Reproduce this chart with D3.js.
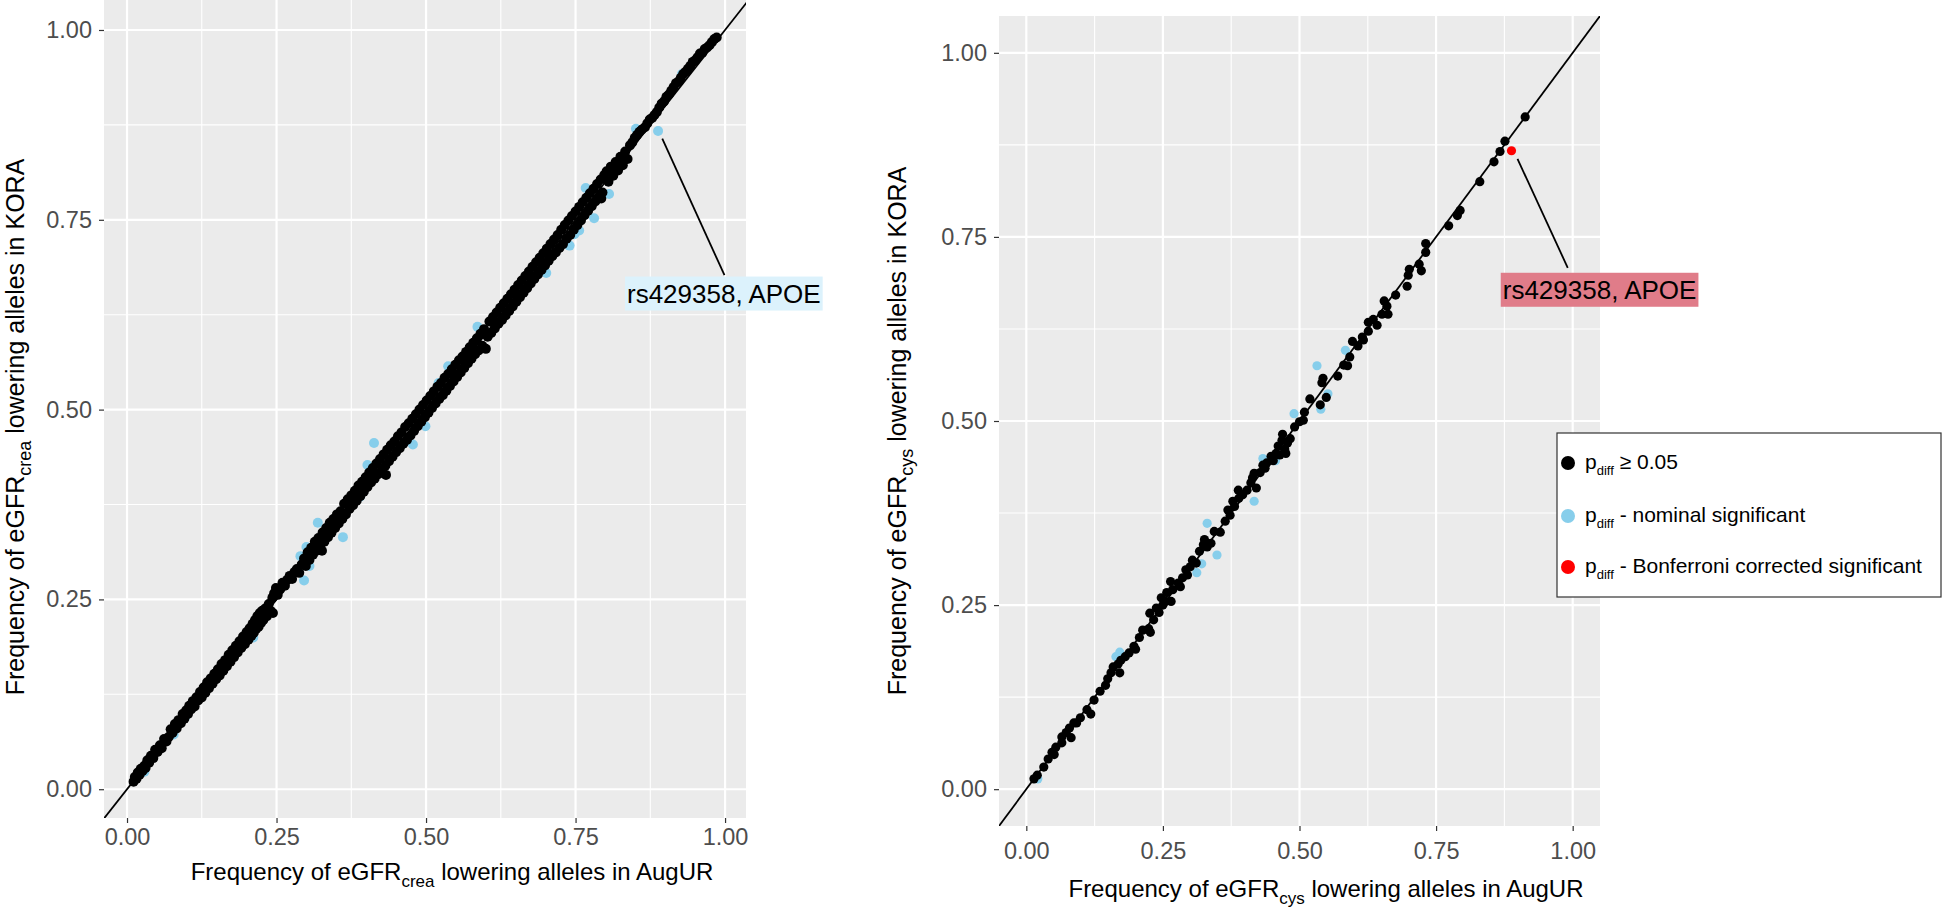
<!DOCTYPE html>
<html><head><meta charset="utf-8">
<script src="https://cdn.jsdelivr.net/npm/d3@7"></script>
<style>
body{margin:0;background:#fff}
svg{display:block}
text{font-family:"Liberation Sans",Arial,sans-serif}
</style>
</head><body>
<svg id="chart" width="1944" height="912"></svg>
<script>
// ---------- data ----------
const tickValues = [0, 0.25, 0.5, 0.75, 1];
const tickLabels = ["0.00", "0.25", "0.50", "0.75", "1.00"];
const minorTicks = [0.125, 0.375, 0.625, 0.875];

const legendLabels = [" \u2265 0.05", " - nominal significant", " - Bonferroni corrected significant"];
const groupColors = ["#000000", "#87CEEB", "#FF0000"];
const annotationText = "rs429358, APOE";

// eGFRcrea: [AugUR frequency, KORA frequency]
const creaBlack = [
[0.011,0.010],[0.013,0.016],[0.016,0.014],[0.018,0.022],[0.021,0.019],[0.023,0.027],[0.026,0.024],[0.029,0.031],[0.031,0.028],[0.034,0.038],[0.037,0.035],[0.040,0.044],[0.044,0.041],[0.047,0.052],[0.051,0.049],[0.055,0.058],[0.058,0.054],[0.062,0.066],[0.066,0.063],[0.070,0.069],[0.073,0.079],[0.076,0.074],[0.080,0.086],[0.083,0.080],[0.086,0.091],[0.090,0.087],[0.093,0.099],[0.096,0.093],[0.099,0.104],
[0.102,0.099],[0.104,0.110],[0.107,0.105],[0.110,0.116],[0.113,0.109],[0.116,0.121],[0.119,0.117],[0.122,0.128],[0.125,0.121],[0.128,0.134],[0.131,0.127],[0.134,0.141],[0.137,0.133],[0.140,0.146],[0.143,0.139],[0.146,0.152],[0.149,0.145],[0.152,0.158],[0.155,0.150],[0.158,0.165],[0.161,0.156],[0.164,0.170],[0.167,0.162],[0.170,0.177],[0.173,0.168],[0.176,0.183],[0.179,0.174],[0.182,0.189],[0.185,0.180],[0.188,0.195],[0.191,0.186],[0.194,0.201],[0.197,0.191],[0.200,0.207],
[0.203,0.197],[0.205,0.212],[0.208,0.202],[0.210,0.218],[0.212,0.206],[0.214,0.223],[0.216,0.211],[0.218,0.228],[0.220,0.214],[0.222,0.232],[0.224,0.219],[0.226,0.235],[0.228,0.223],[0.231,0.238],[0.234,0.228],[0.237,0.244],[0.240,0.235],[0.244,0.232],[0.243,0.252],[0.246,0.258],[0.249,0.265],[0.252,0.256],[0.256,0.263],[0.260,0.272],[0.264,0.268],[0.268,0.276],[0.272,0.281],[0.276,0.277],[0.280,0.286],[0.284,0.290],[0.288,0.285],[0.292,0.296],[0.296,0.304],
[0.299,0.294],[0.302,0.312],[0.305,0.302],[0.308,0.318],[0.311,0.309],[0.314,0.326],[0.317,0.314],[0.320,0.331],[0.323,0.319],[0.326,0.314],[0.327,0.338],[0.330,0.326],[0.333,0.344],[0.336,0.332],[0.339,0.351],[0.342,0.338],[0.345,0.356],[0.348,0.344],[0.351,0.362],[0.354,0.350],[0.357,0.366],[0.360,0.356],[0.363,0.376],[0.366,0.362],[0.369,0.382],[0.372,0.369],[0.375,0.387],[0.378,0.374],[0.381,0.393],[0.384,0.380],[0.387,0.400],[0.390,0.386],[0.393,0.405],[0.396,0.392],[0.399,0.411],
[0.402,0.398],[0.405,0.417],[0.408,0.404],[0.411,0.423],[0.414,0.409],[0.417,0.429],[0.420,0.415],[0.423,0.435],[0.426,0.420],[0.429,0.441],[0.432,0.426],[0.433,0.414],[0.435,0.447],[0.438,0.432],[0.441,0.453],[0.444,0.438],[0.447,0.458],[0.450,0.444],[0.453,0.465],[0.456,0.449],[0.459,0.470],[0.462,0.455],[0.465,0.477],[0.468,0.460],[0.471,0.482],[0.474,0.466],[0.477,0.488],[0.480,0.472],[0.483,0.494],[0.486,0.478],[0.489,0.500],[0.492,0.484],[0.495,0.506],[0.498,0.490],
[0.501,0.512],[0.504,0.496],[0.507,0.518],[0.510,0.502],[0.513,0.524],[0.516,0.508],[0.519,0.530],[0.522,0.514],[0.525,0.535],[0.528,0.519],[0.531,0.542],[0.534,0.525],[0.537,0.547],[0.540,0.531],[0.543,0.553],[0.546,0.537],[0.549,0.559],[0.552,0.543],[0.555,0.565],[0.558,0.549],[0.561,0.570],[0.564,0.555],[0.567,0.576],[0.570,0.561],[0.573,0.582],[0.576,0.567],[0.579,0.588],[0.582,0.573],[0.585,0.594],[0.588,0.578],[0.591,0.600],[0.594,0.584],[0.597,0.606],[0.600,0.580],
[0.603,0.596],[0.606,0.616],[0.609,0.601],[0.612,0.622],[0.615,0.607],[0.618,0.628],[0.621,0.613],[0.624,0.634],[0.627,0.618],[0.630,0.640],[0.633,0.624],[0.636,0.646],[0.639,0.630],[0.642,0.652],[0.645,0.636],[0.648,0.658],[0.651,0.642],[0.654,0.664],[0.657,0.648],[0.660,0.670],[0.663,0.654],[0.666,0.676],[0.669,0.660],[0.672,0.682],[0.675,0.666],[0.678,0.688],[0.681,0.672],[0.684,0.694],[0.687,0.678],[0.690,0.700],[0.693,0.684],[0.696,0.706],[0.699,0.690],
[0.702,0.712],[0.705,0.696],[0.708,0.718],[0.711,0.702],[0.714,0.724],[0.717,0.707],[0.720,0.730],[0.723,0.713],[0.726,0.737],[0.729,0.718],[0.732,0.743],[0.735,0.725],[0.738,0.749],[0.741,0.730],[0.744,0.755],[0.747,0.737],[0.750,0.761],[0.753,0.743],[0.756,0.767],[0.759,0.749],[0.762,0.773],[0.765,0.756],[0.768,0.779],[0.771,0.762],[0.774,0.785],[0.777,0.768],[0.780,0.791],[0.783,0.774],[0.786,0.797],[0.789,0.780],[0.792,0.803],[0.793,0.778],[0.795,0.786],[0.798,0.809],
[0.802,0.814],[0.805,0.800],[0.809,0.820],[0.813,0.808],[0.817,0.826],[0.821,0.815],[0.825,0.833],[0.829,0.822],[0.833,0.840],[0.837,0.830],[0.841,0.848],[0.845,0.852],[0.849,0.858],[0.853,0.862],[0.857,0.866],[0.861,0.869],[0.866,0.872],[0.870,0.877],[0.874,0.882],[0.878,0.884],[0.882,0.888],[0.886,0.892],[0.890,0.898],[0.894,0.903],[0.898,0.906],
[0.902,0.912],[0.906,0.915],[0.910,0.920],[0.914,0.925],[0.918,0.930],[0.922,0.932],[0.926,0.937],[0.930,0.942],[0.934,0.945],[0.938,0.949],[0.942,0.953],[0.946,0.958],[0.950,0.960],[0.954,0.964],[0.958,0.969],[0.962,0.970],[0.966,0.975],[0.970,0.977],[0.974,0.980],[0.978,0.984],[0.982,0.988],[0.986,0.990]
];
const creaBlue = [
[0.928,0.942],[0.851,0.870],[0.888,0.867],[0.767,0.792],[0.806,0.784],[0.781,0.752],[0.756,0.736],[0.748,0.731],[0.740,0.716],[0.701,0.680],[0.586,0.609],[0.537,0.557],[0.521,0.535],[0.499,0.478],[0.413,0.456],[0.478,0.454],[0.402,0.427],[0.389,0.385],[0.319,0.351],[0.361,0.332],[0.300,0.319],[0.290,0.307],[0.305,0.294],[0.296,0.275],[0.211,0.200],[0.097,0.095],[0.078,0.072],[0.029,0.023]
];
const creaRed = [];

// eGFRcys: [AugUR frequency, KORA frequency]
const cysBlack = [
[0.913,0.913],[0.876,0.880],[0.867,0.866],[0.856,0.852],[0.830,0.825],[0.794,0.786],[0.789,0.779],[0.773,0.765],[0.731,0.741],[0.731,0.729],[0.719,0.713],[0.723,0.704],[0.701,0.706],[0.699,0.698],[0.697,0.683],[0.676,0.671],[0.655,0.663],[0.660,0.656],[0.662,0.645],[0.651,0.645],[0.635,0.638],[0.626,0.634],[0.642,0.630],[0.626,0.622],[0.615,0.614],[0.617,0.610],[0.597,0.608],[0.607,0.602],[0.592,0.587],[0.581,0.576],[0.588,0.575],[0.570,0.561],[0.543,0.558],[0.541,0.552],[0.549,0.532],[0.519,0.530],[0.538,0.522],[0.509,0.512],[0.507,0.501],[0.500,0.499],[0.491,0.492],[0.469,0.482],[0.468,0.474],[0.483,0.476],[0.473,0.462],[0.475,0.456],[0.457,0.456],[0.448,0.452],[0.473,0.458],[0.464,0.454],[0.440,0.443],[0.437,0.436],[0.417,0.429],[0.414,0.423],[0.411,0.416],[0.421,0.409],[0.404,0.406],[0.388,0.406],[0.389,0.395],[0.378,0.391],[0.381,0.384],[0.369,0.379],[0.373,0.372],[0.364,0.364],[0.355,0.349],[0.326,0.339],[0.324,0.332],[0.331,0.329],[0.317,0.323],[0.304,0.311],[0.311,0.307],[0.300,0.302],[0.295,0.291],[0.286,0.287],[0.282,0.275],[0.264,0.282],[0.268,0.271],[0.257,0.267],[0.265,0.255],[0.247,0.260],[0.250,0.250],[0.238,0.246],[0.226,0.239],[0.233,0.230],[0.224,0.218],[0.227,0.213],[0.207,0.206],[0.197,0.194],[0.200,0.190],[0.188,0.185],[0.173,0.175],[0.168,0.170],[0.159,0.166],[0.171,0.158],[0.149,0.150],[0.145,0.141],[0.124,0.121],[0.111,0.108],[0.118,0.102],[0.087,0.090],[0.079,0.083],[0.073,0.077],[0.065,0.071],[0.082,0.070],[0.065,0.063],[0.054,0.057],[0.051,0.047],[0.040,0.041],[0.032,0.030],[0.014,0.014],
[0.428,0.430],[0.433,0.440],[0.452,0.446],[0.461,0.466],[0.478,0.470],[0.396,0.400],[0.344,0.350],[0.338,0.334],[0.292,0.298],[0.278,0.280],[0.255,0.255],[0.243,0.240],[0.213,0.216],[0.181,0.180],[0.155,0.158],[0.135,0.133],[0.099,0.097],[0.092,0.090],[0.047,0.050],[0.020,0.019]
];
const cysBlue = [
[0.584,0.596],[0.532,0.575],[0.552,0.537],[0.539,0.516],[0.490,0.510],[0.433,0.449],[0.456,0.446],[0.435,0.447],[0.417,0.391],[0.331,0.361],[0.349,0.318],[0.321,0.306],[0.312,0.294],[0.171,0.186],[0.164,0.180],[0.021,0.014]
];
const cysRed = [[0.888,0.867]];

// ---------- drawing ----------
const svg = d3.select("#chart");
svg.append("rect").attr("width",1944).attr("height",912).attr("fill","#fff");

function addSubText(sel, parts, subSize, shift){
  sel.append("tspan").text(parts[0]);
  sel.append("tspan").attr("font-size", subSize).attr("dy", shift).text(parts[1]);
  sel.append("tspan").attr("dy", -shift).text(parts[2]);
}

function drawPanel(o){
  const x = d3.scaleLinear().domain(o.xDom).range(o.xRange);
  const y = d3.scaleLinear().domain(o.yDom).range(o.yRange);
  const g = svg.append("g");
  const x0 = o.xRange[0], x1 = o.xRange[1], yb = o.yRange[0], yt = o.yRange[1];
  g.append("rect").attr("x",x0).attr("y",yt).attr("width",x1-x0).attr("height",yb-yt).attr("fill","#EBEBEB");
  // minor grid
  g.append("g").selectAll("line").data(minorTicks).join("line")
    .attr("x1",d=>x(d)).attr("x2",d=>x(d)).attr("y1",yt).attr("y2",yb)
    .attr("stroke","#fff").attr("stroke-width",1.1);
  g.append("g").selectAll("line").data(minorTicks).join("line")
    .attr("y1",d=>y(d)).attr("y2",d=>y(d)).attr("x1",x0).attr("x2",x1)
    .attr("stroke","#fff").attr("stroke-width",1.1);
  // major grid
  g.append("g").selectAll("line").data(tickValues).join("line")
    .attr("x1",d=>x(d)).attr("x2",d=>x(d)).attr("y1",yt).attr("y2",yb)
    .attr("stroke","#fff").attr("stroke-width",2.2);
  g.append("g").selectAll("line").data(tickValues).join("line")
    .attr("y1",d=>y(d)).attr("y2",d=>y(d)).attr("x1",x0).attr("x2",x1)
    .attr("stroke","#fff").attr("stroke-width",2.2);
  // clip
  const cid = "clip" + o.id;
  svg.append("clipPath").attr("id",cid).append("rect")
    .attr("x",x0).attr("y",yt).attr("width",x1-x0).attr("height",yb-yt);
  const pg = g.append("g").attr("clip-path","url(#"+cid+")");
  const lo = Math.min(o.xDom[0], o.yDom[0]), hi = Math.max(o.xDom[1], o.yDom[1]);
  pg.append("line").attr("x1",x(lo)).attr("y1",y(lo)).attr("x2",x(hi)).attr("y2",y(hi))
    .attr("stroke","#000").attr("stroke-width",1.8);
  const layers = [[o.blue, groupColors[1]], [o.black, groupColors[0]], [o.red, groupColors[2]]];
  layers.forEach(([data,col]) => {
    pg.append("g").selectAll("circle").data(data).join("circle")
      .attr("cx",d=>x(d[0])).attr("cy",d=>y(d[1])).attr("r",o.r).attr("fill",col);
  });
  // annotation segment + label
  const a = o.annot;
  g.append("line").attr("x1",x(a.from[0])).attr("y1",y(a.from[1]))
    .attr("x2",x(a.to[0])).attr("y2",y(a.to[1])).attr("stroke","#000").attr("stroke-width",1.8);
  const lab = g.append("g");
  const bx = lab.append("rect");
  const t = lab.append("text").attr("x",x(a.label[0])).attr("y",y(a.label[1]))
    .attr("font-size",26).attr("fill","#000").text(annotationText);
  const w = t.node().getComputedTextLength();
  bx.attr("x",x(a.label[0])-2).attr("y",y(a.label[1])-26).attr("width",w+4).attr("height",34).attr("fill",a.fill);
  // axes
  const ax = g.append("g").attr("transform",`translate(0,${yb})`)
    .call(d3.axisBottom(x).tickValues(tickValues).tickFormat((d,i)=>tickLabels[i]).tickSize(5).tickPadding(o.xPad));
  const ay = g.append("g").attr("transform",`translate(${x0},0)`)
    .call(d3.axisLeft(y).tickValues(tickValues).tickFormat((d,i)=>tickLabels[i]).tickSize(5).tickPadding(7));
  [ax,ay].forEach(s=>{
    s.select(".domain").remove();
    s.selectAll(".tick line").attr("stroke","#333").attr("stroke-width",1.2);
    s.selectAll(".tick text").attr("fill","#4D4D4D").attr("font-size",23.5)
      .attr("font-family",'"Liberation Sans",Arial,sans-serif');
  });
  // titles
  const xt = svg.append("text").attr("x",o.xTitle[0]).attr("y",o.xTitle[1])
    .attr("text-anchor","middle").attr("font-size",24).attr("fill","#000");
  addSubText(xt, ["Frequency of eGFR", o.sub, " lowering alleles in AugUR"], 17, 7);
  const yt2 = svg.append("text").attr("transform",`translate(${o.yTitle[0]},${o.yTitle[1]}) rotate(-90)`)
    .attr("text-anchor","middle").attr("font-size",25).attr("fill","#000");
  addSubText(yt2, ["Frequency of eGFR", o.sub, " lowering alleles in KORA"], 18, 7);
}

drawPanel({
  id:"L", xDom:[-0.0385,1.035], yDom:[-0.0379,1.0395], xRange:[104,746], yRange:[818,0],
  black:creaBlack, blue:creaBlue, red:creaRed, xPad:5, sub:"crea", r:5,
  xTitle:[452,880], yTitle:[24,427],
  annot:{from:[0.895,0.857], to:[0.999,0.677], label:[0.836,0.641], fill:"#DCF2FC"}
});
drawPanel({
  id:"R", xDom:[-0.05,1.05], yDom:[-0.05,1.05], xRange:[999,1600], yRange:[826,16],
  black:cysBlack, blue:cysBlue, red:cysRed, xPad:11, sub:"cys", r:4.6,
  xTitle:[1326,897], yTitle:[906,431],
  annot:{from:[0.899,0.856], to:[0.991,0.708], label:[0.872,0.666], fill:"#E07C89"}
});

// legend
const lg = svg.append("g");
lg.append("rect").attr("x",1557).attr("y",433).attr("width",384).attr("height",164)
  .attr("fill","#fff").attr("stroke","#333").attr("stroke-width",1.2);
const rowY = [463,516,567];
legendLabels.forEach((lbl,i)=>{
  lg.append("circle").attr("cx",1568).attr("cy",rowY[i]).attr("r",7).attr("fill",groupColors[i]);
  const t = lg.append("text").attr("x",1585).attr("y",rowY[i]+6).attr("font-size",21).attr("fill","#000");
  t.append("tspan").text("p");
  t.append("tspan").attr("font-size",13).attr("dy",6).text("diff");
  t.append("tspan").attr("dy",-6).text(lbl);
});
</script>
</body></html>
